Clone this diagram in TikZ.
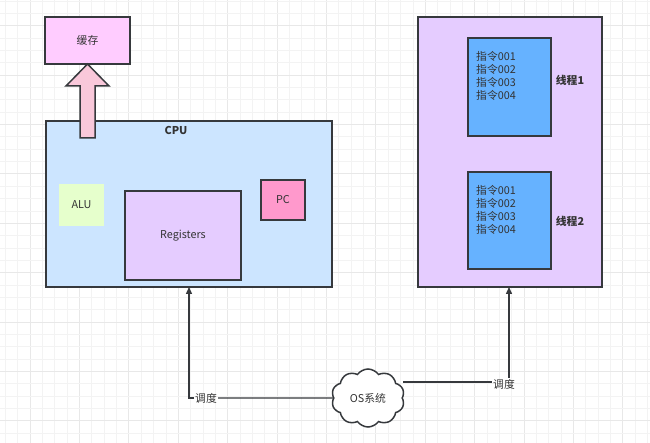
\documentclass[tikz,border=0pt]{standalone}
\usepackage{fontspec}
\setmainfont{Noto Sans CJK SC}
\usetikzlibrary{shapes.symbols,arrows.meta}
\definecolor{edge}{HTML}{36393D}
\definecolor{txt}{HTML}{333333}
\definecolor{cachefill}{HTML}{FFCCFF}
\definecolor{arrowfill}{HTML}{F9C8DA}
\definecolor{cpufill}{HTML}{CCE5FF}
\definecolor{alufill}{HTML}{E6FFCC}
\definecolor{regfill}{HTML}{E5CCFF}
\definecolor{pcfill}{HTML}{FF99CC}
\definecolor{thrfill}{HTML}{66B2FF}
\definecolor{gridminor}{HTML}{F3F3F3}
\definecolor{gridmajor}{HTML}{E8E8E8}
\tikzset{
  box/.style={draw=edge, line width=1.5pt, text=txt, inner sep=0pt, font=\fontsize{10.8}{13}\selectfont},
  lbl/.style={text=txt, inner sep=1pt, font=\fontsize{10.8}{13}\selectfont},
  conn/.style={draw=edge, line width=1.4pt},
  tip/.style={-{Triangle[length=7pt,width=6pt]}}
}
\begin{document}
\begin{tikzpicture}[x=1pt,y=-1pt]
\useasboundingbox (0,0) rectangle (650,443);
\fill[white] (0,0) rectangle (650,443);
% grid
\foreach \i in {-2,...,50} {
  \pgfmathsetmacro{\xx}{30+12.35*\i}
  \pgfmathtruncatemacro{\m}{mod(\i+100,4)}
  \ifnum\m=0
    \draw[gridmajor, line width=0.8pt] (\xx,0) -- (\xx,443);
  \else
    \draw[gridminor, line width=0.6pt] (\xx,0) -- (\xx,443);
  \fi
}
\foreach \i in {-26,...,9} {
  \pgfmathsetmacro{\yy}{322+12.35*\i}
  \pgfmathtruncatemacro{\m}{mod(\i+100,4)}
  \ifnum\m=0
    \draw[gridmajor, line width=0.8pt] (0,\yy) -- (650,\yy);
  \else
    \draw[gridminor, line width=0.6pt] (0,\yy) -- (650,\yy);
  \fi
}
% cache
\node[box, fill=cachefill, minimum width=85pt, minimum height=47pt] (cache) at (87.5,40.5) {缓存};
% CPU
\node[box, fill=cpufill, minimum width=286pt, minimum height=166pt] (cpu) at (189,204) {};
\node[lbl, font=\fontsize{10.8}{13}\selectfont\bfseries] (cputxt) at (176,130) {CPU};
\node[draw=none, fill=alufill, text=txt, inner sep=0pt, minimum width=45pt, minimum height=42pt, font=\fontsize{10.8}{13}\selectfont] (alu) at (81.5,205) {ALU};
\node[box, fill=regfill, minimum width=116pt, minimum height=89pt] (reg) at (183,235.5) {Registers};
\node[box, fill=pcfill, minimum width=44pt, minimum height=40pt] (pc) at (283,200) {PC};
% block arrow
\draw[draw=edge, line width=1.5pt, fill=arrowfill, line join=miter]
  (80,138) -- (80,86) -- (66,86) -- (87.5,64) -- (109,86) -- (95,86) -- (95,138) -- cycle;
% thread area
\node[box, fill=regfill, minimum width=184pt, minimum height=270pt] (proc) at (510,152) {};
\node[box, fill=thrfill, minimum width=83pt, minimum height=98pt] (t1) at (509.5,87) {};
\node[box, fill=thrfill, minimum width=83pt, minimum height=97pt] (t2) at (509.5,220.5) {};
\node[lbl, anchor=north west, align=left, font=\fontsize{10.8}{13}\selectfont] (t1txt) at (475,50) {指令001\\指令002\\指令003\\指令004};
\node[lbl, anchor=north west, align=left, font=\fontsize{10.8}{13}\selectfont] (t2txt) at (475,184) {指令001\\指令002\\指令003\\指令004};
\node[lbl, font=\fontsize{10.8}{13}\selectfont\bfseries] (l1) at (570,80) {线程1};
\node[lbl, font=\fontsize{10.8}{13}\selectfont\bfseries] (l2) at (570,221) {线程2};
% OS cloud
\node[cloud, cloud puffs=10, cloud puff arc=110, aspect=1.3, draw=edge, line width=1.5pt, fill=white, text=txt, inner sep=0pt, minimum width=73pt, minimum height=58pt, font=\fontsize{10.8}{13}\selectfont] (os) at (368,398) {OS系统};
% labels
\node[lbl] (d1) at (206,398) {调度};
\node[lbl] (d2) at (504,384) {调度};
\coordinate (c1) at (189,287);
\coordinate (c2) at (509,287);
% connectors
\draw[conn] (os.west) -- (d1.east);
\draw[conn, tip] (d1.west) -| (c1);
\draw[conn] (os.east |- 0,382) -- (d2.west |- 0,382);
\draw[conn, tip] (d2.north -| c2) -- (c2);
\end{tikzpicture}
\end{document}
